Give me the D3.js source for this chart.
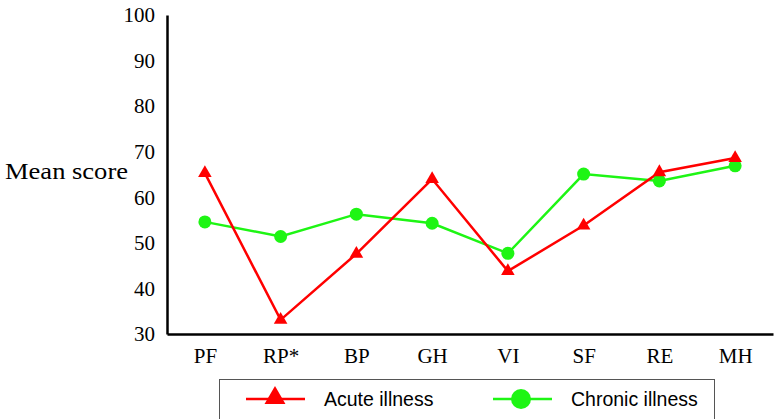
<!DOCTYPE html>
<html><head><meta charset="utf-8">
<script src="https://cdn.jsdelivr.net/npm/d3@7/dist/d3.min.js"></script>
<style>body{margin:0;background:#fff}svg{display:block}</style>
</head><body>
<svg id="c" width="774" height="419"></svg>
<script>
const categories = ["PF","RP*","BP","GH","VI","SF","RE","MH"];
const acute = [65.3, 33.1, 47.6, 64.0, 43.8, 53.8, 65.5, 68.6];
const chronic = [54.6, 51.4, 56.3, 54.3, 47.7, 65.1, 63.6, 66.9];
const yTicks = [30,40,50,60,70,80,90,100];
const seriesNames = ["Acute illness","Chronic illness"];
const RED = "#ff0000", GREEN = "#1ef514";
const SERIF = "Liberation Serif, Times New Roman, serif";

const svg = d3.select("#c");
const x = d3.scalePoint().domain(categories).range([167,773]).padding(0.5);
const y = d3.scaleLinear().domain([30,100]).range([334,15]);

// axes
const ya = svg.append("g").attr("transform","translate(167,0)")
  .attr("font-family",SERIF).attr("font-size",21)
  .call(d3.axisLeft(y).tickValues(yTicks).tickSize(0).tickPadding(12).tickFormat(d3.format("d")));
ya.attr("font-family",SERIF).attr("font-size",21);
ya.select(".domain").attr("stroke","#000").attr("stroke-width",2.5);
ya.selectAll("text").attr("fill","#000");

const xa = svg.append("g").attr("transform","translate(0,334)")
  .call(d3.axisBottom(x).tickSize(0).tickPadding(14));
xa.attr("font-family",SERIF).attr("font-size",21);
xa.select(".domain").attr("stroke","#000").attr("stroke-width",2.5);
xa.selectAll("text").attr("fill","#000");

svg.append("text").attr("x",5).attr("y",179)
  .attr("font-family",SERIF).attr("font-size",23)
  .attr("textLength",123).attr("lengthAdjust","spacingAndGlyphs")
  .text("Mean score");

const line = d3.line().x((d,i)=>x(categories[i])).y(d=>y(d));
svg.append("path").datum(chronic).attr("d",line).attr("fill","none").attr("stroke",GREEN).attr("stroke-width",2.5);
svg.append("path").datum(acute).attr("d",line).attr("fill","none").attr("stroke",RED).attr("stroke-width",2.5);

svg.selectAll(".cp").data(chronic).enter().append("circle")
  .attr("cx",(d,i)=>x(categories[i])).attr("cy",d=>y(d)).attr("r",6.5).attr("fill",GREEN);
const tri = d3.symbol().type(d3.symbolTriangle).size(80);
svg.selectAll(".ap").data(acute).enter().append("path")
  .attr("d",tri).attr("transform",(d,i)=>`translate(${x(categories[i])},${y(d)})`).attr("fill",RED);

// legend
const lg = svg.append("g");
lg.append("rect").attr("x",219.5).attr("y",379.5).attr("width",495).attr("height",60)
  .attr("fill","#fff").attr("stroke","#555").attr("stroke-width",1);
lg.append("line").attr("x1",246).attr("x2",305).attr("y1",399).attr("y2",399).attr("stroke",RED).attr("stroke-width",2.5);
lg.append("path").attr("d",d3.symbol().type(d3.symbolTriangle).size(190)).attr("transform","translate(275,398)").attr("fill",RED);
lg.append("text").attr("x",324).attr("y",405.5).attr("font-family","Liberation Sans, Arial, sans-serif").attr("font-size",19.5).text(seriesNames[0]);
lg.append("line").attr("x1",493).attr("x2",552).attr("y1",399).attr("y2",399).attr("stroke",GREEN).attr("stroke-width",2.5);
lg.append("circle").attr("cx",521).attr("cy",399).attr("r",10).attr("fill",GREEN);
lg.append("text").attr("x",571).attr("y",405.5).attr("font-family","Liberation Sans, Arial, sans-serif").attr("font-size",19.5).text(seriesNames[1]);
</script>
</body></html>
